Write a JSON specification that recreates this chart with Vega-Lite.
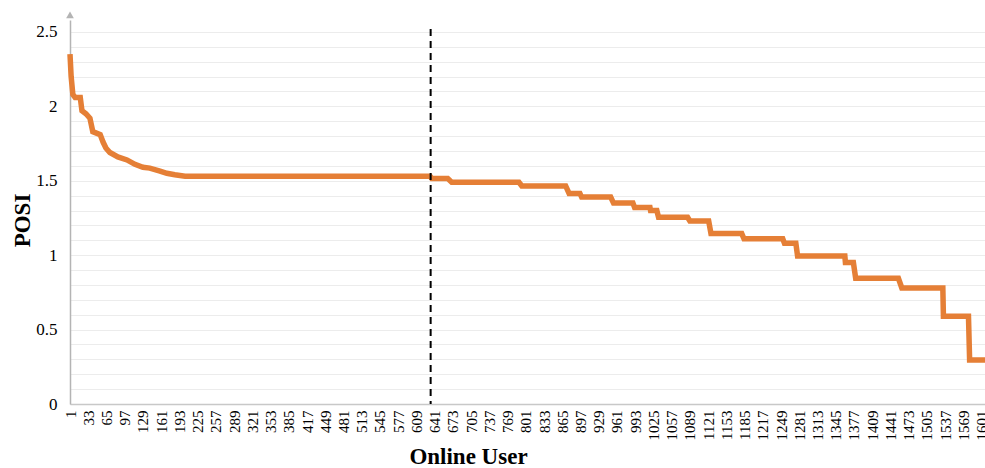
{
  "$schema": "https://vega.github.io/schema/vega-lite/v6.json",
  "width": 915,
  "height": 384,
  "autosize": {"type": "none"},
  "padding": {"left": 70, "top": 20, "right": 0, "bottom": 64},
  "background": "white",
  "config": {
    "view": {"stroke": null},
    "font": "Liberation Serif"
  },
  "datasets": {
    "posi": [
      {"user": 1, "posi": 2.35}, {"user": 3, "posi": 2.2}, {"user": 6, "posi": 2.08},
      {"user": 10, "posi": 2.06}, {"user": 19, "posi": 2.06}, {"user": 22, "posi": 1.97},
      {"user": 29, "posi": 1.95}, {"user": 36, "posi": 1.92}, {"user": 41, "posi": 1.83},
      {"user": 54, "posi": 1.81}, {"user": 59, "posi": 1.76}, {"user": 64, "posi": 1.72},
      {"user": 71, "posi": 1.69}, {"user": 85, "posi": 1.66}, {"user": 101, "posi": 1.64},
      {"user": 115, "posi": 1.61}, {"user": 129, "posi": 1.59}, {"user": 141, "posi": 1.585},
      {"user": 159, "posi": 1.565}, {"user": 171, "posi": 1.55}, {"user": 185, "posi": 1.54},
      {"user": 203, "posi": 1.53}, {"user": 633, "posi": 1.53}, {"user": 636, "posi": 1.515},
      {"user": 664, "posi": 1.515}, {"user": 671, "posi": 1.49}, {"user": 789, "posi": 1.49},
      {"user": 794, "posi": 1.465}, {"user": 871, "posi": 1.465}, {"user": 877, "posi": 1.415},
      {"user": 896, "posi": 1.415}, {"user": 899, "posi": 1.39}, {"user": 950, "posi": 1.39},
      {"user": 955, "posi": 1.35}, {"user": 989, "posi": 1.35}, {"user": 992, "posi": 1.32},
      {"user": 1019, "posi": 1.32}, {"user": 1020, "posi": 1.3}, {"user": 1031, "posi": 1.3},
      {"user": 1034, "posi": 1.255}, {"user": 1085, "posi": 1.255}, {"user": 1089, "posi": 1.23},
      {"user": 1122, "posi": 1.23}, {"user": 1126, "posi": 1.145}, {"user": 1180, "posi": 1.145},
      {"user": 1184, "posi": 1.11}, {"user": 1252, "posi": 1.11}, {"user": 1255, "posi": 1.08},
      {"user": 1275, "posi": 1.08}, {"user": 1278, "posi": 0.995}, {"user": 1361, "posi": 0.995},
      {"user": 1362, "posi": 0.95}, {"user": 1376, "posi": 0.95}, {"user": 1380, "posi": 0.845},
      {"user": 1455, "posi": 0.845}, {"user": 1461, "posi": 0.78}, {"user": 1533, "posi": 0.78},
      {"user": 1534, "posi": 0.59}, {"user": 1578, "posi": 0.59}, {"user": 1580, "posi": 0.295},
      {"user": 1607, "posi": 0.295}
    ],
    "split": [{"user": 634}]
  },
  "resolve": {"axis": {"x": "independent", "y": "independent"}},
  "layer": [
    {
      "data": {"name": "posi"},
      "mark": {"type": "line", "color": "#E57F36", "strokeWidth": 5.5, "strokeJoin": "miter", "clip": false},
      "encoding": {
        "x": {
          "field": "user", "type": "quantitative",
          "scale": {"domain": [1, 1607], "nice": false, "zero": false},
          "axis": {
            "values": [1,33,65,97,129,161,193,225,257,289,321,353,385,417,449,481,513,545,577,609,641,673,705,737,769,801,833,865,897,929,961,993,1025,1057,1089,1121,1153,1185,1217,1249,1281,1313,1345,1377,1409,1441,1473,1505,1537,1569,1601],
            "format": "d",
            "labelAngle": -90,
            "labelFont": "Liberation Serif",
            "labelFontSize": 15,
            "labelColor": "#000000",
            "labelPadding": 6,
            "labelOverlap": false,
            "labelBound": false,
            "labelFlush": false,
            "ticks": false,
            "grid": false,
            "domainColor": "#c8c8c8",
            "domainWidth": 1.5,
            "title": "Online User",
            "titleFont": "Liberation Serif",
            "titleFontSize": 23,
            "titleFontWeight": "bold",
            "titleColor": "#000000",
            "titleX": 398,
            "titleY": 52,
            "titleAlign": "center",
            "titleBaseline": "middle",
            "titleAnchor": null
          }
        },
        "y": {
          "field": "posi", "type": "quantitative",
          "scale": {"domain": [0, 2.58], "nice": false},
          "axis": {
            "values": [0,0.1,0.2,0.3,0.4,0.5,0.6,0.7,0.8,0.9,1,1.1,1.2,1.3,1.4,1.5,1.6,1.7,1.8,1.9,2,2.1,2.2,2.3,2.4,2.5],
            "format": ".1~f",
            "labelExpr": "round(datum.value*10) % 5 == 0 ? datum.label : ''",
            "labelFont": "Liberation Serif",
            "labelFontSize": 17,
            "labelColor": "#000000",
            "labelPadding": 13,
            "labelOverlap": false,
            "ticks": false,
            "grid": true,
            "gridColor": "#ececec",
            "gridWidth": 1,
            "domainColor": "#b4b4b4",
            "domainWidth": 1.5,
            "title": "POSI",
            "titleFont": "Liberation Serif",
            "titleFontSize": 23,
            "titleFontWeight": "bold",
            "titleColor": "#000000",
            "titleAngle": -90,
            "titleX": -48,
            "titleY": 200,
            "titleAlign": "center",
            "titleBaseline": "middle",
            "titleAnchor": null
          }
        }
      }
    },
    {
      "data": {"name": "split"},
      "mark": {"type": "rule", "color": "#000000", "strokeWidth": 2, "strokeDash": [7, 5]},
      "encoding": {
        "x": {"field": "user", "type": "quantitative", "axis": null},
        "y": {"datum": 2.52, "type": "quantitative", "axis": null},
        "y2": {"datum": 0}
      }
    },
    {
      "data": {"values": [{}]},
      "mark": {"type": "point", "shape": "triangle-up", "filled": true, "color": "#b4b4b4", "size": 60, "opacity": 1, "clip": false},
      "encoding": {
        "x": {"datum": 1, "type": "quantitative", "axis": null},
        "y": {"datum": 2.615, "type": "quantitative", "axis": null}
      }
    }
  ]
}
